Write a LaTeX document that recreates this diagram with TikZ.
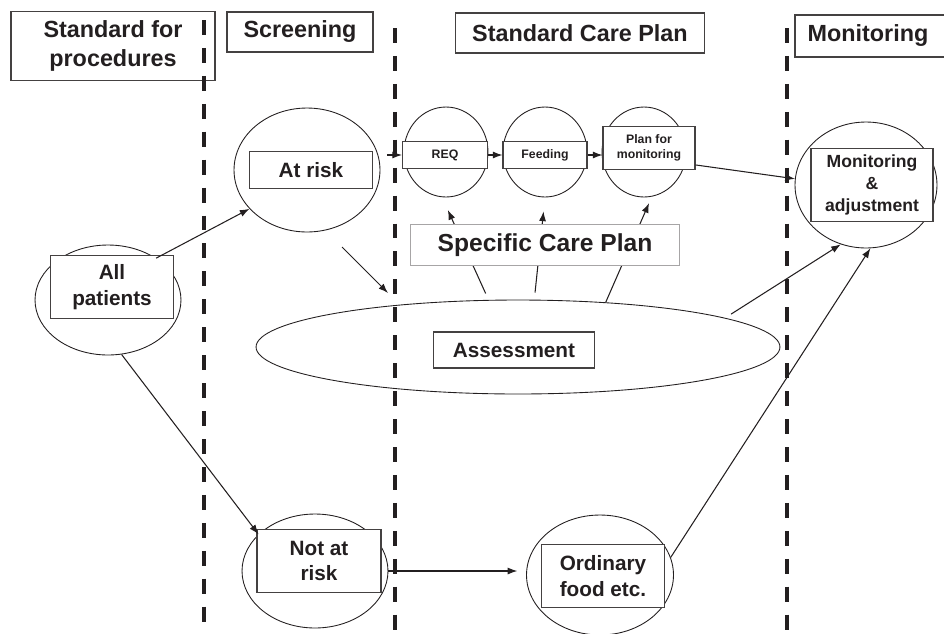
\documentclass[tikz,border=0pt]{standalone}
\usepackage{fontspec}
\setmainfont{Liberation Sans}
\usepackage{xcolor}
\usetikzlibrary{shapes.geometric,arrows.meta,positioning,calc}
\definecolor{ink}{HTML}{231F20}

\begin{document}
\begin{tikzpicture}[x=0.02cm, y=-0.02cm,
    bubble/.style={ellipse, draw=ink, line width=0.5pt, inner sep=0pt},
    tag/.style={rectangle, draw=ink!85, line width=0.6pt, fill=white, inner sep=1pt, align=center, text=ink},
    head/.style={tag, font=\bfseries\fontsize{13.3}{17}\selectfont},
    big/.style={font=\bfseries\fontsize{11.8}{14.5}\selectfont},
    small/.style={font=\bfseries\fontsize{7}{8.5}\selectfont},
    arr/.style={draw=ink, line width=0.6pt, -{Latex[length=5.5pt,width=4pt]}},
    lane/.style={draw=ink, line width=2.4pt, dash pattern=on 8.5pt off 7.4pt}]
    \path[use as bounding box, clip] (0,0) rectangle (944,633);

    % column headings
    \node[head, minimum width=4.08cm, minimum height=1.38cm] (hproc) at (113,46) {Standard for\\procedures};
    \node[head, minimum width=2.92cm, minimum height=0.8cm] (hscr) at (300,32) {Screening};
    \node[head, minimum width=4.98cm, minimum height=0.8cm] (hcare) at (580,33) {Standard Care Plan};
    \node[head, minimum width=3.2cm, minimum height=0.84cm] (hmon) at (875,36) {\hspace*{-8pt}Monitoring};

    % bubbles
    \node[bubble, minimum width=2.92cm, minimum height=2.2cm] (allc) at (108,300) {};
    \node[bubble, minimum width=2.92cm, minimum height=2.48cm] (riskc) at (307,170) {};
    \node[bubble, minimum width=2.92cm, minimum height=2.28cm] (notc) at (315,571) {};
    \node[bubble, minimum width=2.94cm, minimum height=2.4cm] (ordc) at (600,575) {};
    \node[bubble, minimum width=10.48cm, minimum height=1.88cm] (assc) at (518,347) {};
    \node[bubble, minimum width=1.68cm, minimum height=1.8cm] (reqc) at (446,152) {};
    \node[bubble, minimum width=1.68cm, minimum height=1.8cm] (feedc) at (545,152) {};
    \node[bubble, minimum width=1.68cm, minimum height=1.8cm] (planc) at (644,152) {};
    \node[bubble, minimum width=2.84cm, minimum height=2.52cm] (monc) at (866,185) {};

    % labels in boxes
    \node[tag, big, minimum width=2.46cm, minimum height=1.26cm] (allbox) at (112,287) {All\\patients};
    \node[tag, big, minimum width=2.46cm, minimum height=0.74cm] (riskbox) at (311,170) {At risk};
    \node[tag, big, minimum width=2.48cm, minimum height=1.26cm] (notbox) at (319,561) {Not at\\risk};
    \node[tag, big, minimum width=2.46cm, minimum height=1.26cm] (ordbox) at (603,576) {Ordinary\\food etc.};
    \node[tag, big, minimum width=3.22cm, minimum height=0.72cm] (assbox) at (514,350) {Assessment};
    \node[tag, small, minimum width=1.7cm, minimum height=0.54cm] (reqbox) at (445,155) {REQ};
    \node[tag, small, minimum width=1.68cm, minimum height=0.54cm] (feedbox) at (545,155) {Feeding};
    \node[tag, small, minimum width=1.84cm, minimum height=0.86cm] (planbox) at (649,148) {Plan for\\monitoring};
    \node[tag, font=\bfseries\fontsize{10}{12.3}\selectfont, minimum width=2.44cm, minimum height=1.46cm] (monbox) at (872,185) {Monitoring\\\&\\adjustment};

    % free ends
    \coordinate (risk-out) at (342,247);
    \coordinate (ass-in) at (388,293);

    % connectors
    \draw[arr] (allc.41) -- (riskc.214);
    \draw[arr] (allc.-76) -- (notc.147);
    \draw[arr] (risk-out) -- (ass-in);
    \draw[arr, shorten <=4pt] (riskc.east |- reqbox.west) -- (reqbox.west);
    \draw[arr] (reqbox) -- (feedbox);
    \draw[arr] (feedbox.east) -- (feedbox.east -| planbox.west);
    \draw[arr] (planbox.-20) -- (monc.175);
    \draw[arr, shorten <=4pt, shorten >=8pt] (assc.122.6) -- (reqc.-95);
    \draw[arr, shorten <=4pt, shorten >=8pt] (assc.71) -- (feedc.south);
    \draw[arr, shorten >=4pt] (assc.27.6) -- (planc.-80);
    \draw[arr, shorten <=4pt] (assc.8.5) -- (monc.247.6);
    \draw[arr] (ordc.14) -- (monc.274);
    \draw[arr, shorten >=5pt] (notc.east) -- (notc.east -| ordc.west);

    % specific plan sits over the arrows
    \node[tag, draw=ink!40, font=\bfseries\fontsize{14}{16}\selectfont, minimum width=5.38cm, minimum height=0.82cm] (spec) at (545,245) {Specific Care Plan};

    % lane separators
    \draw[lane] (204,20) -- (204,640);
    \draw[lane] (395,28) -- (395,640);
    \draw[lane] (787,28) -- (787,640);
\end{tikzpicture}
\end{document}
